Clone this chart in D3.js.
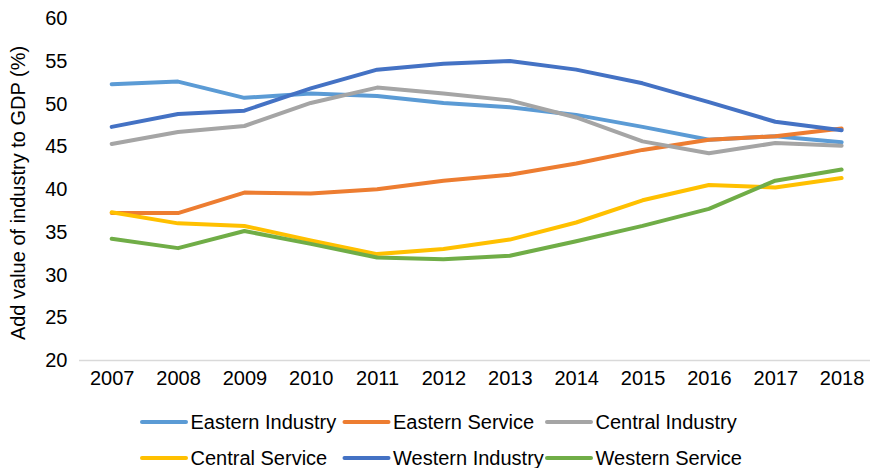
<!DOCTYPE html>
<html>
<head>
<meta charset="utf-8">
<script src="https://cdn.jsdelivr.net/npm/d3@7"></script>
<style>
  html, body { margin: 0; padding: 0; background: #fff; }
  svg { display: block; font-family: "Liberation Sans", Arial, sans-serif; }
</style>
</head>
<body>
<svg id="chart" width="870" height="468"></svg>
<script>
// Years on the x axis
const years = [2007, 2008, 2009, 2010, 2011, 2012, 2013, 2014, 2015, 2016, 2017, 2018];

// Share of value added in GDP (%) by region and sector
const easternIndustry = [52.3, 52.6, 50.7, 51.2, 50.9, 50.1, 49.6, 48.7, 47.3, 45.8, 46.2, 45.5];
const easternService  = [37.2, 37.2, 39.6, 39.5, 40.0, 41.0, 41.7, 43.0, 44.6, 45.8, 46.2, 47.1];
const centralIndustry = [45.3, 46.7, 47.4, 50.1, 51.9, 51.2, 50.4, 48.4, 45.6, 44.2, 45.4, 45.1];
const centralService  = [37.3, 36.0, 35.7, 34.0, 32.4, 33.0, 34.1, 36.1, 38.7, 40.5, 40.2, 41.3];
const westernIndustry = [47.3, 48.8, 49.2, 51.8, 54.0, 54.7, 55.0, 54.0, 52.4, 50.2, 47.9, 46.9];
const westernService  = [34.2, 33.1, 35.1, 33.6, 32.0, 31.8, 32.2, 33.9, 35.7, 37.7, 41.0, 42.3];

const seriesNames  = ["Eastern Industry", "Eastern Service", "Central Industry",
                      "Central Service", "Western Industry", "Western Service"];
const seriesValues = [easternIndustry, easternService, centralIndustry,
                      centralService, westernIndustry, westernService];
const seriesColors = ["#5B9BD5", "#ED7D31", "#A5A5A5", "#FFC000", "#4472C4", "#70AD47"];

const yTicks = [20, 25, 30, 35, 40, 45, 50, 55, 60];
const yTitle = "Add value of industry to GDP (%)";

const fontSize = 20;
const fontFamily = "'Liberation Sans', Arial, sans-serif";

const svg = d3.select("#chart");

const x = d3.scalePoint().domain(years).range([78.5, 874.8]).padding(0.5);
const y = d3.scaleLinear().domain([20, 60]).range([360, 18.4]);

// X axis with light grey baseline
const xAxis = svg.append("g")
  .attr("transform", "translate(0,360)")
  .call(d3.axisBottom(x).tickSize(0).tickPadding(11));
xAxis.select(".domain").attr("stroke", "#D9D9D9").attr("stroke-width", 1.3);
xAxis.selectAll("text").attr("font-size", fontSize).attr("fill", "#000")
  .attr("font-family", fontFamily);

// Y axis labels only
const yAxis = svg.append("g")
  .attr("transform", "translate(78.5,0)")
  .call(d3.axisLeft(y).tickValues(yTicks).tickSize(0).tickPadding(11));
yAxis.select(".domain").remove();
yAxis.selectAll("text").attr("font-size", fontSize).attr("fill", "#000")
  .attr("font-family", fontFamily);

// Y axis title
svg.append("text")
  .attr("transform", "translate(24.5,193) rotate(-90)")
  .attr("text-anchor", "middle")
  .attr("font-size", fontSize)
  .attr("fill", "#000")
  .text(yTitle);

// Series lines
const line = d3.line().x((d, i) => x(years[i])).y(d => y(d));
svg.append("g").selectAll("path")
  .data(seriesValues)
  .join("path")
  .attr("d", line)
  .attr("fill", "none")
  .attr("stroke", (d, i) => seriesColors[i])
  .attr("stroke-width", 4)
  .attr("stroke-linejoin", "round")
  .attr("stroke-linecap", "round");

// Legend: two rows of three entries
const legendCols = [142, 344.5, 547];
const legendRows = [422, 458];
const legend = svg.append("g").selectAll("g")
  .data(seriesNames)
  .join("g")
  .attr("transform", (d, i) => `translate(${legendCols[i % 3]},${legendRows[Math.floor(i / 3)]})`);
legend.append("line")
  .attr("x1", 0).attr("x2", 44).attr("y1", 0).attr("y2", 0)
  .attr("stroke", (d, i) => seriesColors[i])
  .attr("stroke-width", 4)
  .attr("stroke-linecap", "round");
legend.append("text")
  .attr("x", 48.5)
  .attr("dy", "0.35em")
  .attr("font-size", fontSize)
  .attr("fill", "#000")
  .text(d => d);
</script>
</body>
</html>
